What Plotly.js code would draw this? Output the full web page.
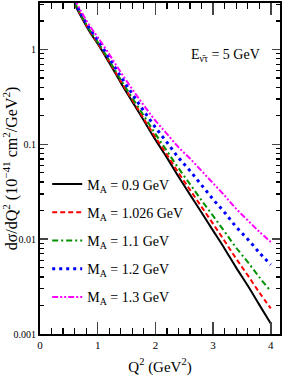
<!DOCTYPE html>
<html>
<head>
<meta charset="utf-8">
<script src="https://cdn.plot.ly/plotly-3.0.1.min.js"></script>
<style>html,body{margin:0;padding:0;background:#fff;}#chart{width:284px;height:382px;}</style>
</head>
<body>
<div id="chart"></div>
<script>
// Q^2 (GeV^2)
const q2 = [0.6,0.7,0.8,0.9,1.0,1.2,1.4,1.6,1.8,2.0,2.2,2.4,2.6,2.8,3.0,3.2,3.4,3.6,3.8,4.0];
// dσ/dQ² (10^-41 cm²/GeV²)
const ma090  = [3.02,2.29,1.78,1.41,1.15,0.724,0.447,0.282,0.178,0.112,0.0724,0.0457,0.0295,0.0191,0.0123,0.00794,0.00501,0.00324,0.00204,0.00129];
const ma1026 = [3.09,2.34,1.82,1.45,1.17,0.745,0.462,0.294,0.186,0.119,0.0776,0.0501,0.0331,0.0219,0.0145,0.00955,0.00624,0.00417,0.00275,0.00186];
const ma110  = [3.13,2.37,1.85,1.47,1.20,0.767,0.479,0.309,0.200,0.129,0.0851,0.0562,0.0380,0.0257,0.0176,0.0120,0.00813,0.00575,0.00398,0.00282];
const ma120  = [3.24,2.45,1.91,1.53,1.26,0.813,0.519,0.339,0.224,0.151,0.105,0.0724,0.0525,0.0372,0.0263,0.0191,0.0135,0.0100,0.00724,0.00537];
const ma130  = [3.39,2.60,2.04,1.64,1.35,0.891,0.575,0.380,0.257,0.178,0.129,0.0933,0.0708,0.0525,0.0389,0.0288,0.0209,0.0158,0.0120,0.00933];
const seriesNames = ["M<sub>A</sub> = 0.9 GeV","M<sub>A</sub> = 1.026 GeV","M<sub>A</sub> = 1.1 GeV","M<sub>A</sub> = 1.2 GeV","M<sub>A</sub> = 1.3 GeV"];
const xTickVals = [0,1,2,3,4];
const xTickText = ["0","1","2","3","4"];
const yTickVals = [0.001,0.01,0.1,1];
const yTickText = ["0.001","0.01","0.1","1"];

const serif = "Liberation Serif, Times New Roman, serif";
const styles = [
  {color:"#000000", dash:"solid", width:2},
  {color:"#ff0000", dash:"5px,3px", width:2},
  {color:"#009000", dash:"6px,3px,2px,3px", width:2},
  {color:"#0000ff", dash:"3px,4px", width:3},
  {color:"#ff00ff", dash:"6px,2px,2px,2px,2px,2px", width:2}
];
const ys = [ma090, ma1026, ma110, ma120, ma130];
const traces = ys.map((y,i)=>({
  x:q2, y:y, type:"scatter", mode:"lines", name:seriesNames[i], legendgroup:"g"+i,
  line:{color:styles[i].color, dash:styles[i].dash, width:styles[i].width, shape:"spline"},
  cliponaxis:true
}));

const minorY = [];
for (let e=-3;e<=0;e++){ for (let m=2;m<=9;m++){ minorY.push(m*Math.pow(10,e)); } }

const layout = {
  width:284, height:382,
  margin:{l:40, r:4, t:3, b:48},
  paper_bgcolor:"#fff", plot_bgcolor:"#fff",
  showlegend:true,
  legend:{x:0.03, y:0.5, xanchor:"left", yanchor:"top", bgcolor:"rgba(0,0,0,0)",
    font:{family:serif, size:14, color:"#000"}, tracegroupgap:7},
  xaxis:{range:[0,4.16], tickvals:xTickVals, ticktext:xTickText, ticks:"inside", ticklen:12, tickwidth:1.5,
    showline:true, linecolor:"#000", linewidth:2, mirror:"allticks", showgrid:false, zeroline:false,
    tickfont:{family:serif, size:11, color:"#000"},
    minor:{dtick:0.2, tick0:0, ticks:"inside", ticklen:6, tickwidth:1.2, tickcolor:"#000", showgrid:false},
    title:{text:"Q<sup>2</sup> (GeV<sup>2</sup>)", font:{family:serif, size:15, color:"#000"}, standoff:11}},
  yaxis:{type:"log", range:[-3,0.49], tickvals:yTickVals, ticktext:yTickText, ticks:"inside", ticklen:8, tickwidth:1.5,
    showline:true, linecolor:"#000", linewidth:2, mirror:"allticks", showgrid:false, zeroline:false,
    tickfont:{family:serif, size:10, color:"#000"},
    minor:{tickvals:minorY, ticks:"inside", ticklen:4, tickwidth:1.2, tickcolor:"#000", showgrid:false},
    title:{text:"dσ/dQ<sup>2</sup> (10<sup>−41</sup> cm<sup>2</sup>/GeV<sup>2</sup>)", font:{family:serif, size:16, color:"#000"}, standoff:2}},
  annotations:[{xref:"x", yref:"y", x:2.58, y:-0.06, xanchor:"left", yanchor:"middle", showarrow:false,
    text:"E<sub>ν̄τ</sub> = 5 GeV", font:{family:serif, size:14, color:"#000"}}]
};
Plotly.newPlot("chart", traces, layout, {staticPlot:true, displayModeBar:false});
</script>
</body>
</html>
